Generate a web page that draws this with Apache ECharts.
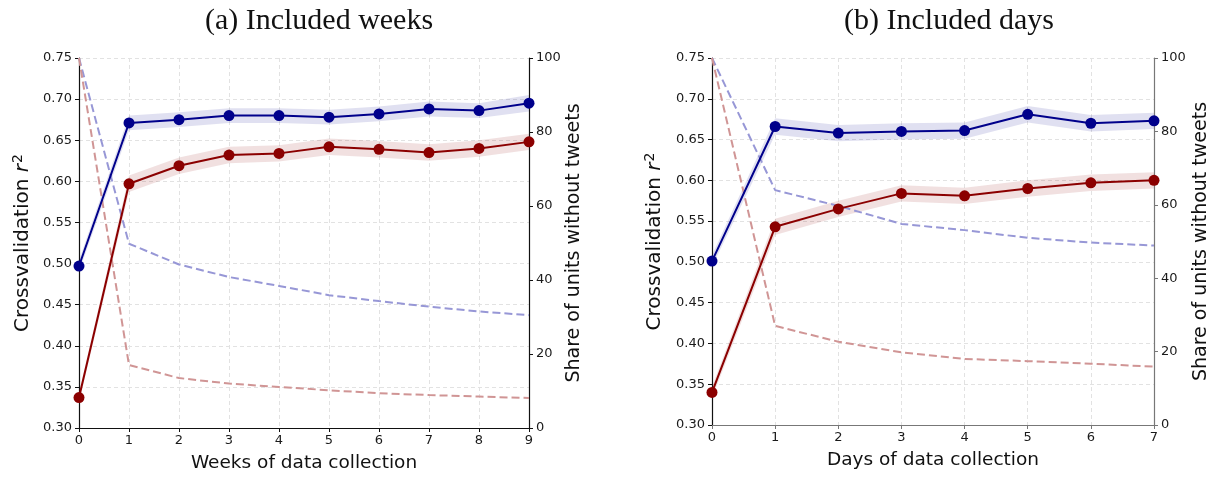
<!DOCTYPE html>
<html>
<head>
<meta charset="utf-8">
<script src="https://cdn.jsdelivr.net/npm/echarts/dist/echarts.min.js"></script>
<style>
  html, body { margin: 0; padding: 0; background: #fff; }
  #chart { width: 1213px; height: 478px; }
</style>
</head>
<body>
<div id="chart"></div>
<script>
// ---- Panel (a): weeks of data collection ----
const weekLabels = ['0', '1', '2', '3', '4', '5', '6', '7', '8', '9'];
const weeksBlueR2 = [0.497, 0.671, 0.675, 0.680, 0.680, 0.678, 0.682, 0.688, 0.686, 0.695];
const weeksBlueCI = [0.007, 0.009, 0.009, 0.009, 0.009, 0.009, 0.009, 0.009, 0.009, 0.010];
const weeksRedR2 = [0.337, 0.597, 0.619, 0.632, 0.634, 0.642, 0.639, 0.635, 0.640, 0.648];
const weeksRedCI = [0.006, 0.010, 0.010, 0.010, 0.010, 0.010, 0.010, 0.010, 0.010, 0.010];
const weeksBlueShare = [100, 49.8, 44.2, 40.8, 38.4, 35.9, 34.3, 32.8, 31.5, 30.5];
const weeksRedShare = [100, 17.0, 13.5, 12.0, 11.1, 10.2, 9.4, 8.9, 8.5, 8.1];

// ---- Panel (b): days of data collection ----
const dayLabels = ['0', '1', '2', '3', '4', '5', '6', '7'];
const daysBlueR2 = [0.501, 0.666, 0.658, 0.660, 0.661, 0.681, 0.670, 0.673];
const daysBlueCI = [0.007, 0.010, 0.010, 0.010, 0.010, 0.010, 0.010, 0.010];
const daysRedR2 = [0.340, 0.543, 0.565, 0.584, 0.581, 0.590, 0.597, 0.600];
const daysRedCI = [0.007, 0.010, 0.010, 0.010, 0.010, 0.010, 0.010, 0.010];
const daysBlueShare = [100, 64.0, 59.7, 54.8, 53.1, 51.0, 49.7, 48.9];
const daysRedShare = [100, 27.0, 22.7, 19.8, 18.0, 17.4, 16.7, 15.9];

// ---- Titles and axis names ----
const panelTitles = ['(a) Included weeks', '(b) Included days'];
const xAxisNames = ['Weeks of data collection', 'Days of data collection'];
const leftAxisName = '{n|Crossvalidation }{r|r}{s|2}';
const rightAxisName = 'Share of units without tweets';

const BLUE = '#00008b';
const RED = '#8b0000';
const BLUE_DASH = '#9797d6';
const RED_DASH = '#d09595';
const BLUE_BAND = 'rgba(0,0,139,0.12)';
const RED_BAND = 'rgba(139,0,0,0.12)';
const SANS = 'DejaVu Sans';

function bandSeries(id, mid, half, g, color) {
  const lower = mid.map((v, i) => +(v - half[i]).toFixed(4));
  const width = half.map(h => +(2 * h).toFixed(4));
  const common = {
    type: 'line', xAxisIndex: g, yAxisIndex: 2 * g, stack: id,
    symbol: 'none', silent: true, z: 1, lineStyle: { opacity: 0 }
  };
  return [
    Object.assign({}, common, { data: lower }),
    Object.assign({}, common, { data: width, areaStyle: { color: color, opacity: 1 } })
  ];
}

function meanSeries(mid, g, color) {
  return {
    type: 'line', xAxisIndex: g, yAxisIndex: 2 * g, data: mid, z: 5,
    symbol: 'circle', symbolSize: 11,
    lineStyle: { color: color, width: 2 },
    itemStyle: { color: color }
  };
}

function shareSeries(vals, g, color) {
  return {
    type: 'line', xAxisIndex: g, yAxisIndex: 2 * g + 1, data: vals, z: 3,
    symbol: 'none',
    lineStyle: { color: color, width: 2, type: [8, 4] }
  };
}

function xAxisFor(g, labels, name, lineColor) {
  return {
    type: 'category', gridIndex: g, data: labels, boundaryGap: false,
    name: name, nameLocation: 'middle', nameGap: 26,
    nameTextStyle: { fontFamily: SANS, fontSize: 18.5, color: '#111' },
    axisLine: { onZero: false, lineStyle: { color: lineColor, width: 1.2 } },
    axisTick: { show: true, length: 4, alignWithLabel: true, lineStyle: { color: lineColor } },
    axisLabel: { fontFamily: SANS, fontSize: 13, color: '#1a1a1a', margin: 6 },
    splitLine: { show: true, lineStyle: { color: '#e2e2e2', type: [4, 3] } }
  };
}

function leftAxisFor(g, gap) {
  return {
    type: 'value', gridIndex: g, position: 'left', min: 0.30, max: 0.75, interval: 0.05,
    name: leftAxisName, nameLocation: 'middle', nameGap: gap, nameRotate: 90,
    nameTextStyle: {
      fontFamily: SANS, fontSize: 20, color: '#111',
      rich: {
        n: { fontFamily: SANS, fontSize: 20, color: '#111' },
        r: { fontFamily: SANS, fontSize: 20, fontStyle: 'italic', color: '#111' },
        s: { fontFamily: SANS, fontSize: 14, color: '#111', padding: [0, 0, 10, 1] }
      }
    },
    axisLine: { show: true, lineStyle: { color: '#111', width: 1.2 } },
    axisTick: { show: true, length: 4, lineStyle: { color: '#111' } },
    axisLabel: { fontFamily: SANS, fontSize: 13, color: '#1a1a1a', margin: 7,
                 formatter: v => v.toFixed(2) },
    splitLine: { show: true, lineStyle: { color: '#e2e2e2', type: [4, 3] } }
  };
}

function rightAxisFor(g, gap, lineColor) {
  return {
    type: 'value', gridIndex: g, position: 'right', min: 0, max: 100, interval: 20,
    name: rightAxisName, nameLocation: 'middle', nameGap: gap, nameRotate: 90,
    nameTextStyle: { fontFamily: SANS, fontSize: 19, color: '#111' },
    axisLine: { show: true, lineStyle: { color: lineColor, width: 1.2 } },
    axisTick: { show: true, length: 4, lineStyle: { color: lineColor } },
    axisLabel: { fontFamily: SANS, fontSize: 13, color: '#1a1a1a', margin: 7 },
    splitLine: { show: false }
  };
}

const chart = echarts.init(document.getElementById('chart'), null, { renderer: 'canvas' });

chart.setOption({
  animation: false,
  backgroundColor: '#fff',
  title: [
    { text: panelTitles[0], left: 314, top: 1, textAlign: 'center',
      textStyle: { fontFamily: 'Liberation Serif', fontSize: 30, fontWeight: 'normal', color: '#111' } },
    { text: panelTitles[1], left: 944, top: 1, textAlign: 'center',
      textStyle: { fontFamily: 'Liberation Serif', fontSize: 30, fontWeight: 'normal', color: '#111' } }
  ],
  grid: [
    { left: 79, right: 1213 - 529, top: 58, bottom: 478 - 429 },
    { left: 712, right: 1213 - 1154, top: 58, bottom: 478 - 425 }
  ],
  xAxis: [
    xAxisFor(0, weekLabels, xAxisNames[0], '#111'),
    xAxisFor(1, dayLabels, xAxisNames[1], '#777')
  ],
  yAxis: [
    leftAxisFor(0, 44),
    rightAxisFor(0, 36, '#111'),
    leftAxisFor(1, 45),
    rightAxisFor(1, 38, '#777')
  ],
  series: [
    ...bandSeries('wb', weeksBlueR2, weeksBlueCI, 0, BLUE_BAND),
    ...bandSeries('wr', weeksRedR2, weeksRedCI, 0, RED_BAND),
    shareSeries(weeksBlueShare, 0, BLUE_DASH),
    shareSeries(weeksRedShare, 0, RED_DASH),
    meanSeries(weeksBlueR2, 0, BLUE),
    meanSeries(weeksRedR2, 0, RED),

    ...bandSeries('db', daysBlueR2, daysBlueCI, 1, BLUE_BAND),
    ...bandSeries('dr', daysRedR2, daysRedCI, 1, RED_BAND),
    shareSeries(daysBlueShare, 1, BLUE_DASH),
    shareSeries(daysRedShare, 1, RED_DASH),
    meanSeries(daysBlueR2, 1, BLUE),
    meanSeries(daysRedR2, 1, RED)
  ]
});
</script>
</body>
</html>
